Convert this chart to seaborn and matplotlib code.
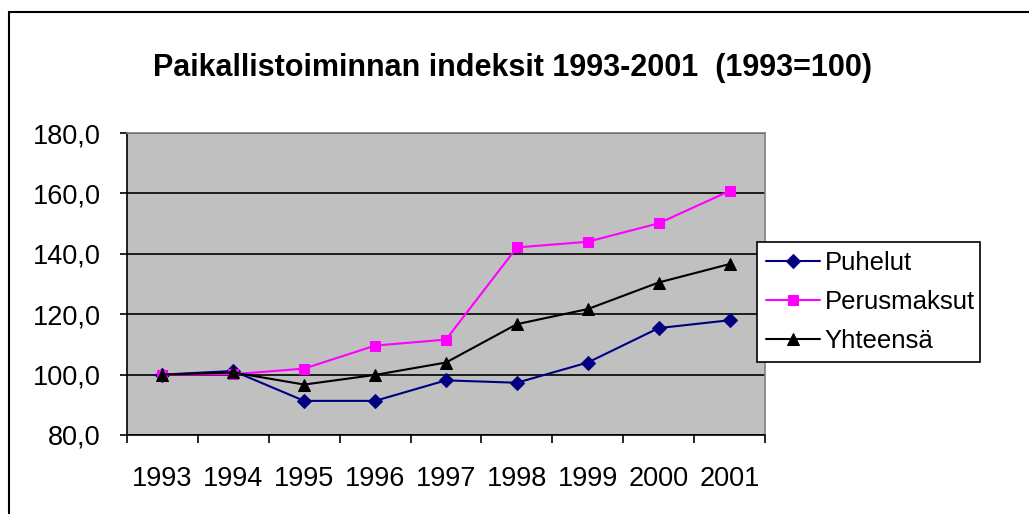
#!/usr/bin/env python3

import pandas as pd
import matplotlib.pyplot as plt
import matplotlib.patches as mpatches
from matplotlib.ticker import FixedLocator, MultipleLocator
import seaborn as sns

sns.set_theme(style='white')
plt.rcParams['font.family'] = ['Liberation Sans', 'DejaVu Sans']
plt.rcParams['text.color'] = 'black'
plt.rcParams['xtick.color'] = 'black'
plt.rcParams['ytick.color'] = 'black'

# Data
years = ['1993', '1994', '1995', '1996', '1997', '1998', '1999', '2000', '2001']
puhelut = [100.0, 101.2, 91.3, 91.3, 98.1, 97.3, 104.0, 115.4, 118.0]
perusmaksut = [100.0, 100.1, 102.0, 109.6, 111.6, 142.1, 144.0, 150.1, 160.8]
yhteensa = [100.0, 100.7, 96.7, 99.9, 104.0, 116.7, 121.7, 130.5, 136.6]

series = ['Puhelut', 'Perusmaksut', 'Yhteensä']
colors = {'Puhelut': '#000080', 'Perusmaksut': '#FF00FF', 'Yhteensä': '#000000'}
markers = {'Puhelut': 'D', 'Perusmaksut': 's', 'Yhteensä': '^'}
msizes = {'Puhelut': 7.5, 'Perusmaksut': 7, 'Yhteensä': 8.5}

df = pd.DataFrame({'pos': range(len(years)), 'Puhelut': puhelut,
                   'Perusmaksut': perusmaksut, 'Yhteensä': yhteensa})
df = df.melt(id_vars='pos', var_name='sarja', value_name='indeksi')

fig = plt.figure(figsize=(10.29, 5.14), dpi=100)
ax = fig.add_axes([0.1234, 0.1537, 0.62, 0.5875])
ax.set_facecolor('#C0C0C0')

for s in series:
    sns.lineplot(data=df[df['sarja'] == s], x='pos', y='indeksi',
                 color=colors[s], marker=markers[s], markersize=msizes[s],
                 markeredgecolor=colors[s], linewidth=1.5, label=s, ax=ax,
                 zorder=3)

ax.set_xlim(-0.5, len(years) - 0.5)
ax.set_ylim(80, 180)
ax.yaxis.set_major_locator(MultipleLocator(20))
ax.yaxis.set_major_formatter(lambda v, p: f'{v:.1f}'.replace('.', ','))
ax.grid(axis='y', color='black', linewidth=1.2)
ax.set_axisbelow(True)

ax.set_xticks(range(len(years)))
ax.set_xticklabels(years)
ax.xaxis.set_minor_locator(FixedLocator([i - 0.5 for i in range(len(years) + 1)]))
ax.tick_params(axis='x', which='major', length=0, pad=22, labelsize=19.5)
ax.tick_params(axis='x', which='minor', length=6, width=1.2, color='black',
               direction='out', bottom=True)
ax.tick_params(axis='y', length=5, width=1.2, color='black', direction='out',
               left=True, pad=14, labelsize=19.5)
ax.set_xlabel('')
ax.set_ylabel('')

for side in ['top', 'right']:
    ax.spines[side].set_color('#808080')
    ax.spines[side].set_linewidth(1.2)
for side in ['left', 'bottom']:
    ax.spines[side].set_color('black')
    ax.spines[side].set_linewidth(1.2)

leg = ax.legend(loc='center left', bbox_to_anchor=(0.736, 0.292, 0.216, 0.241),
                bbox_transform=fig.transFigure, mode='expand', fontsize=18.5,
                frameon=True, fancybox=False, borderpad=0.33, labelspacing=0.6,
                handlelength=2.1, handletextpad=0.2, borderaxespad=0)
leg.get_frame().set_edgecolor('black')
leg.get_frame().set_linewidth(1.2)
leg.get_frame().set_facecolor('white')
leg.get_frame().set_alpha(1)

fig.text(0.4985, 0.868, 'Paikallistoiminnan indeksit 1993-2001  (1993=100)',
         ha='center', va='center', fontsize=22, fontweight='bold')

# chart-area border
fig.patches.append(mpatches.Rectangle((9 / 1029, -0.05), 1.2, 1.05 - 12 / 514,
                                      transform=fig.transFigure, fill=False,
                                      edgecolor='black', linewidth=1.5))

fig.savefig('out.png', dpi=100)
